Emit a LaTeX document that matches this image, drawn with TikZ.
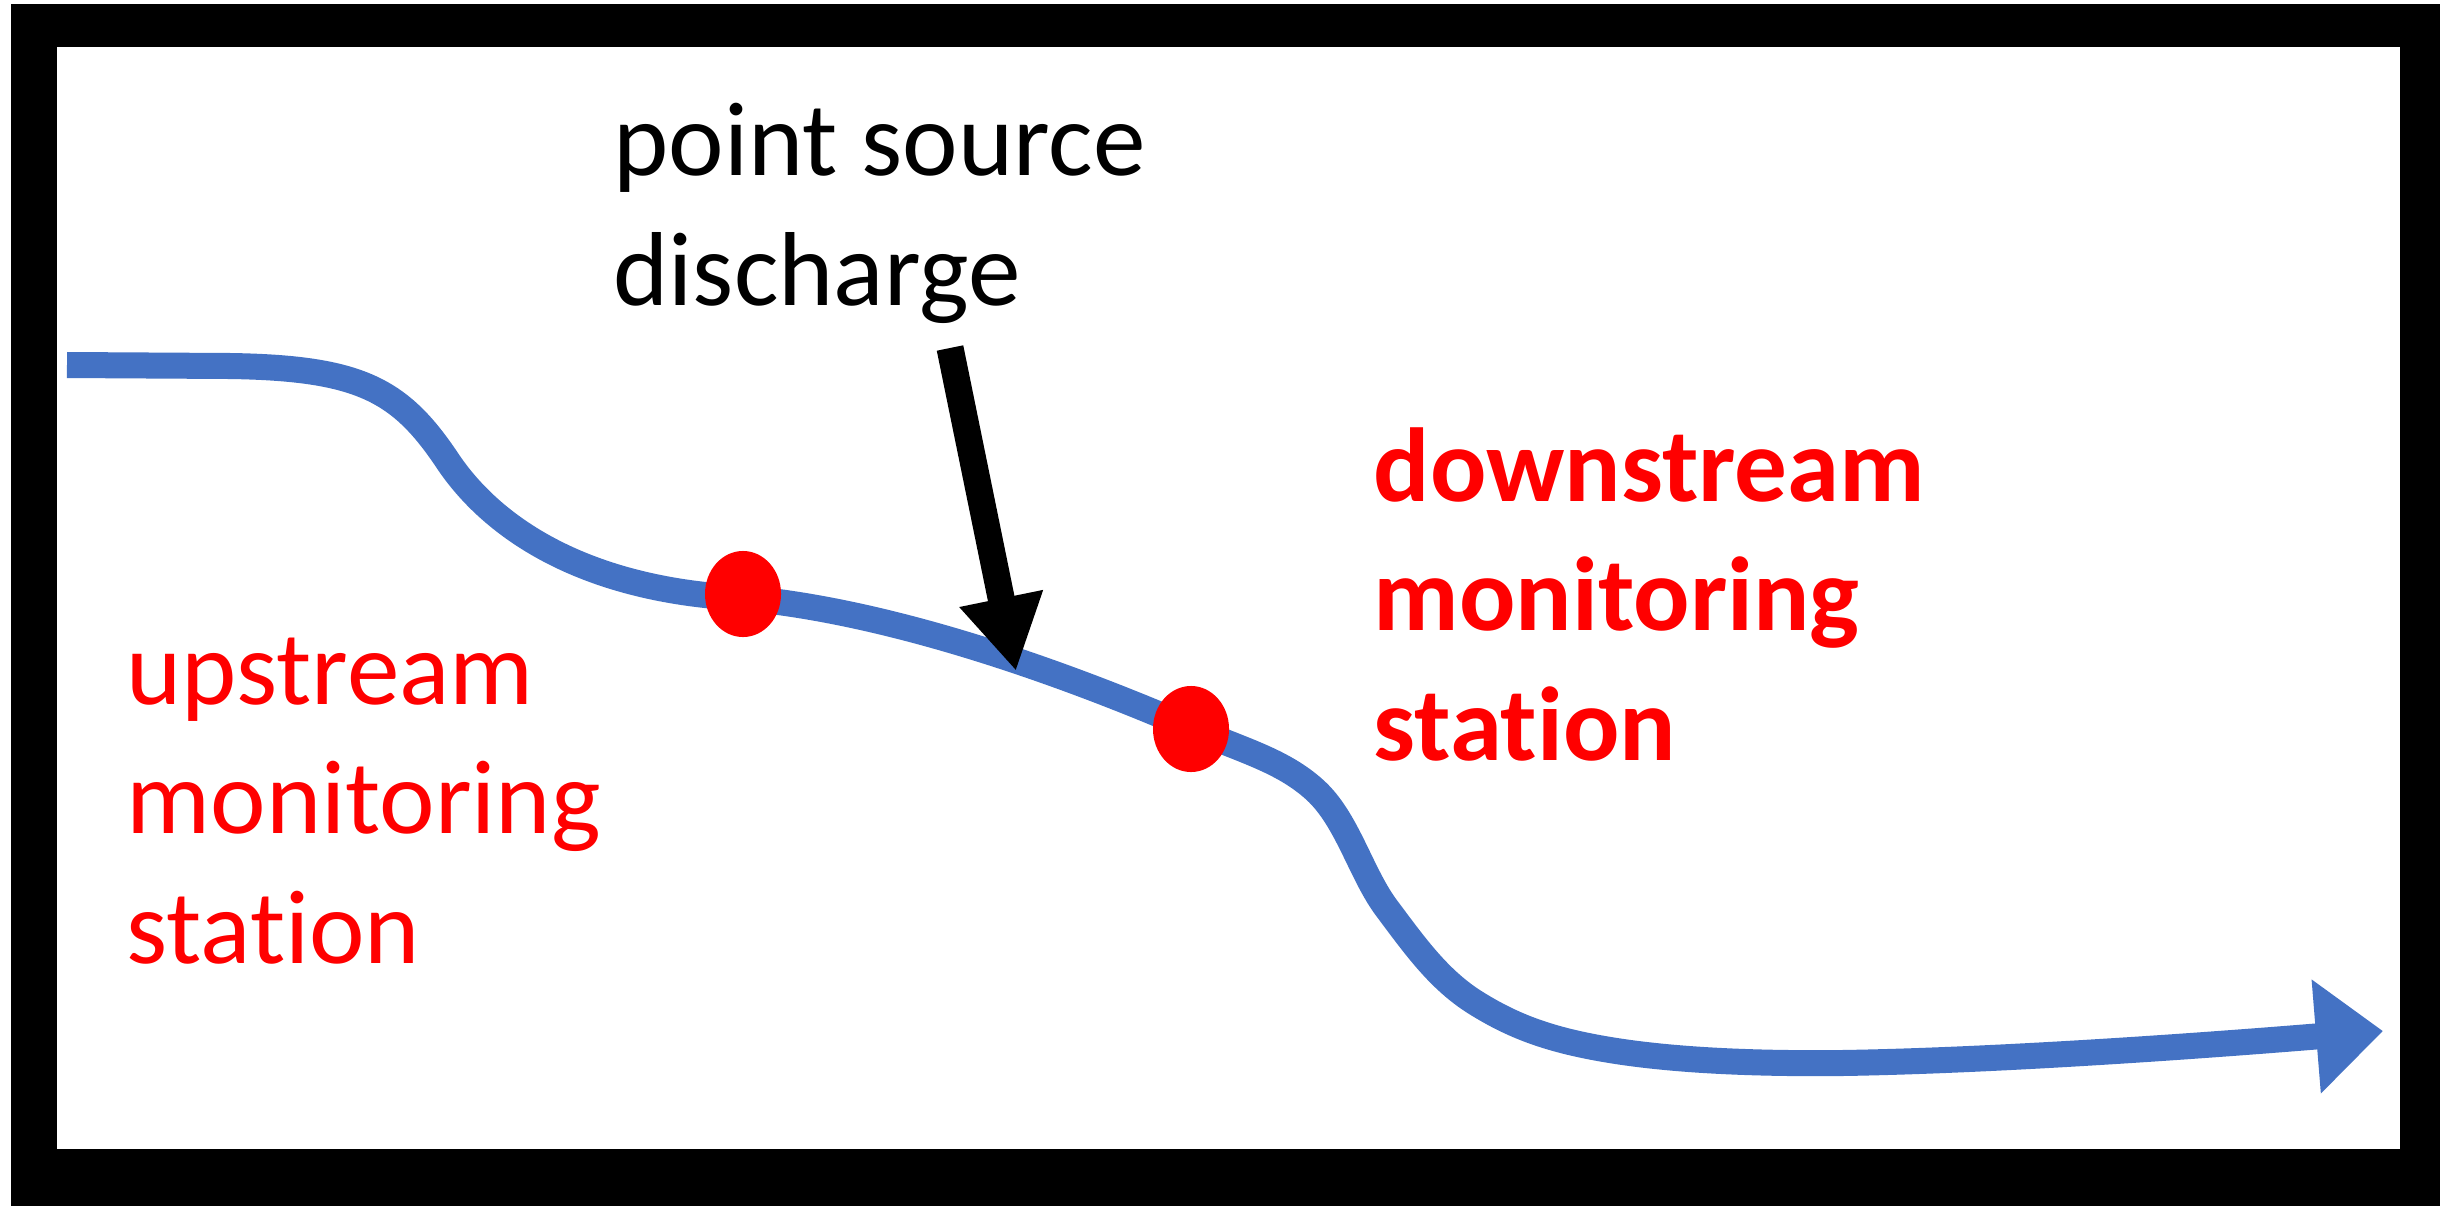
\documentclass[tikz,border=0pt]{standalone}
\usepackage{fontspec}
\setmainfont{Carlito}[Ligatures={NoCommon,NoRare,NoContextual}]
\usetikzlibrary{arrows.meta,shapes.geometric}
\definecolor{riverblue}{HTML}{4472C4}
\definecolor{stationred}{HTML}{FF0000}
\begin{document}
\begin{tikzpicture}[
    x=0.01cm, y=-0.01cm,
    textlabel/.style={anchor=base west, inner sep=0pt, align=left, font=\fontsize{29.9}{36.7}\selectfont},
    station/.style={ellipse, fill=stationred, minimum width=0.76cm, minimum height=0.86cm, inner sep=0pt},
    river/.style={riverblue, line width=0.26cm, -{Triangle[length=0.67cm, width=1.1cm]}},
    pointer/.style={black, line width=0.27cm, -{Triangle[length=0.74cm, width=0.8cm]}}
  ]
  \useasboundingbox (0,0) rectangle (2440,1206);

  % Frame
  \fill[black] (11,4) rectangle (2440,1206);
  \fill[white] (57,47) rectangle (2400,1149);

  % River
  \draw[river] (67,365) -- (230,366)
    .. controls (360,368) and (400,390) .. (447,460)
    .. controls (490,525) and (580,590) .. (743,598)
    .. controls (900,612) and (1080,680) .. (1191,728)
    .. controls (1241,750) and (1282,760) .. (1315,790)
    .. controls (1348,820) and (1361,875) .. (1388,910)
    .. controls (1415,946) and (1439,980) .. (1476,1003)
    .. controls (1513,1026) and (1549,1040) .. (1610,1050)
    .. controls (1671,1060) and (1750,1064) .. (1842,1063)
    .. controls (1971,1061) and (2150,1050) .. (2383,1031);

  % Monitoring stations
  \node[station] (upstation) at (743,594) {};
  \node[station] (downstation) at (1191,729) {};

  % Labels (anchored on the baseline of the last line)
  \node[textlabel] (discharge) at (613,305) {point source\\discharge};
  \node[textlabel, text=stationred] (uplabel) at (126,963) {upstream\\monitoring\\station};
  \node[textlabel, text=stationred, font=\fontsize{29.9}{36.7}\selectfont\bfseries] (downlabel) at (1373,760) {downstream\\monitoring\\station};

  % Discharge arrow
  \coordinate (outfall) at (950,348);
  \coordinate (inflow) at (1016,671);
  \draw[pointer] (outfall) -- (inflow);
\end{tikzpicture}
\end{document}
